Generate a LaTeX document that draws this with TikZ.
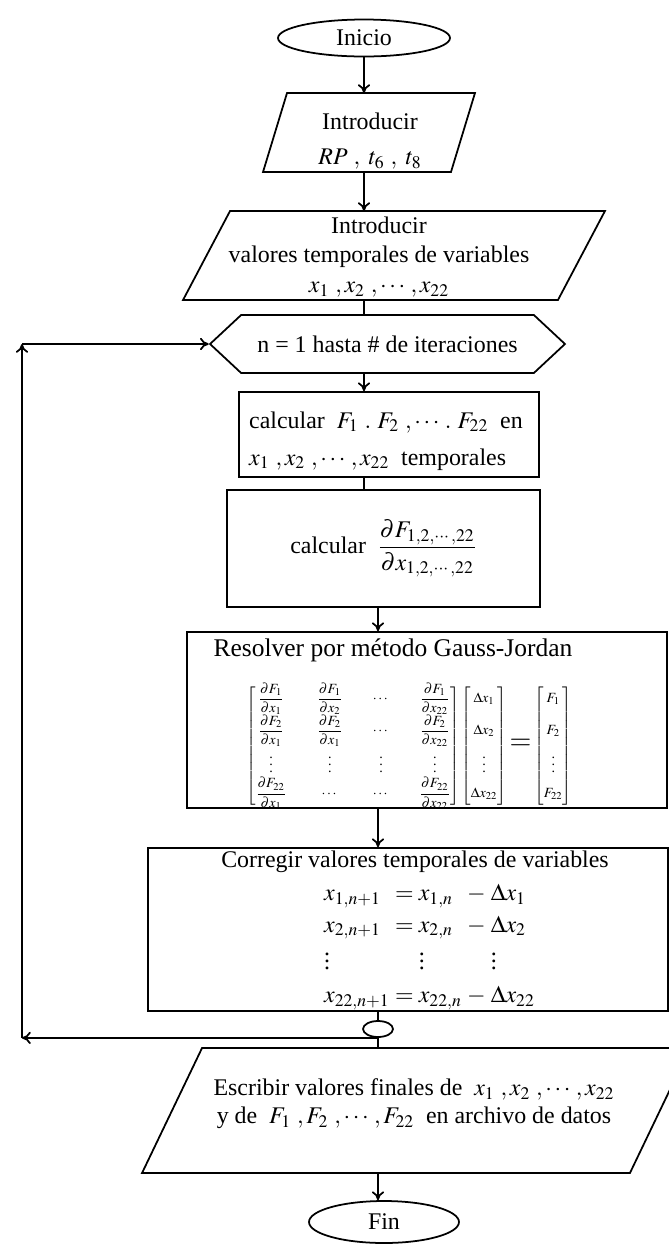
\documentclass[tikz,border=0pt]{standalone}
\usepackage{amsmath}
\usepackage{mathptmx}
\usepackage{fontspec}
\setmainfont{Liberation Serif}
\usepackage{tikz}
\usetikzlibrary{arrows.meta, positioning, shapes.geometric, shapes.symbols}

\newcommand{\alto}{\vphantom{\dfrac{\partial F_1}{\partial x_1}}}
% contorno de paralelogramo sobre un nodo rectangular
\newcommand{\paralelo}[2]{\draw[linea] ([xshift=#2]#1.north west) -- (#1.north east) -- ([xshift=-#2]#1.south east) -- (#1.south west) -- cycle;}

\begin{document}
\begin{tikzpicture}[x=0.02cm, y=-0.02cm,
    every node/.style={font=\fontsize{13.6}{16}\selectfont},
    linea/.style={line width=1pt},
    flecha/.style={linea, -{To[length=5pt,width=7pt]}},
    caja/.style={draw, rectangle, line width=1pt},
    datos/.style={rectangle, inner sep=0pt, outer sep=0pt},
    terminal/.style={draw, ellipse, line width=1pt, inner sep=0pt}]

    \useasboundingbox (0,0) rectangle (669,1245);

    % Inicio y datos de entrada
    \node[terminal, minimum width=3.44cm, minimum height=0.74cm] (inicio) at (364,38) {Inicio};
    \node[datos, minimum width=4.24cm, minimum height=1.58cm] (p1) at (369,132.5) {};
    \paralelo{p1}{0.48cm}
    \node[align=center] (p1t) at (370,141) {Introducir\\[4pt] $RP\ ,\ t_6\ ,\ t_8$};
    \node[datos, minimum width=8.44cm, minimum height=1.78cm] (p2) at (394,255.5) {};
    \paralelo{p2}{0.94cm}
    \node[align=center] (p2t) at (379,257) {Introducir\\[1pt] valores temporales de variables\\[1pt] $x_1\ ,x_2\ ,\cdots ,x_{22}$};

    % Ciclo de iteraciones
    \node[draw, signal, signal to=west and east, signal pointer angle=86, line width=1pt, minimum width=7.1cm, minimum height=1.16cm] (hex) at (387.5,344) {n = 1 hasta \# de iteraciones};
    \node[caja, minimum width=6cm, minimum height=1.7cm] (b3) at (389,434.5) {};
    \node[anchor=west, align=left] (b3t) at (243,441) {calcular \ $F_1\ .\ F_2\ ,\cdots .\ F_{22}$ \ en\\[5pt] $x_1\ ,x_2\ ,\cdots ,x_{22}$ \ temporales};
    \node[caja, minimum width=6.26cm, minimum height=2.34cm] (b4) at (383.5,548.5) {calcular \ $\dfrac{\partial F_{1,2,\cdots,22}}{\partial x_{1,2,\cdots,22}}$};
    \node[caja, minimum width=9.6cm, minimum height=3.52cm] (b5) at (427,720) {};
    \node[font=\fontsize{14.5}{17}\selectfont] (b5t) at (393,650) {Resolver por método Gauss-Jordan};
    \node[font=\fontsize{8}{9.5}\selectfont] (mat) at (409,746) {\setlength{\arraycolsep}{8.5pt}$\begin{bmatrix}
        \dfrac{\partial F_1}{\partial x_1} & \dfrac{\partial F_1}{\partial x_2} & \cdots & \dfrac{\partial F_1}{\partial x_{22}}\\
        \dfrac{\partial F_2}{\partial x_1} & \dfrac{\partial F_2}{\partial x_1} & \cdots & \dfrac{\partial F_2}{\partial x_{22}}\\
        \vdots & \vdots & \vdots & \vdots\\
        \dfrac{\partial F_{22}}{\partial x_1} & \cdots & \cdots & \dfrac{\partial F_{22}}{\partial x_{22}}
    \end{bmatrix}\setlength{\arraycolsep}{3pt}\begin{bmatrix}
        \Delta x_1\alto\\ \Delta x_2\alto\\ \vdots\\ \Delta x_{22}\alto
    \end{bmatrix} \mathrel{\text{\fontsize{16}{16}\selectfont$=$}} \begin{bmatrix}
        \,F_1\,\alto\\ F_2\alto\\ \vdots\\ F_{22}\alto
    \end{bmatrix}$};
    \node[caja, minimum width=10.4cm, minimum height=3.26cm] (b6) at (408,929.5) {};
    \node (b6t) at (415,862) {Corregir valores temporales de variables};
    \node[anchor=west] (eqs) at (318,946) {$\begin{array}{@{}l@{\;}c@{\;}l@{\;}c@{\;}l@{}}
        x_{1,n+1} & = & x_{1,n} & - & \Delta x_1\\[2pt]
        x_{2,n+1} & = & x_{2,n} & - & \Delta x_2\\[1pt]
        \vdots & & \vdots & & \vdots\\[3pt]
        x_{22,n+1} & = & x_{22,n} & - & \Delta x_{22}
    \end{array}$};
    \node[terminal, minimum width=0.6cm, minimum height=0.32cm] (ell) at (378,1029) {};

    % Salida y fin
    \node[datos, minimum width=10.96cm, minimum height=2.5cm] (p3) at (416,1110.5) {};
    \paralelo{p3}{1.2cm}
    \node[align=center] (p3t) at (414,1104) {Escribir valores finales de \ $x_1\ ,x_2\ ,\cdots ,x_{22}$\\ y de \ $F_1\ ,F_2\ ,\cdots ,F_{22}$ \ en archivo de datos};
    \node[terminal, minimum width=3cm, minimum height=0.84cm] (fin) at (384,1222) {Fin};

    % Flechas
    \draw[flecha] (inicio) -- (inicio |- p1.north);
    \draw[flecha] (inicio |- p1.south) -- (inicio |- p2.north);
    \draw[linea] (inicio |- p2.south) -- (inicio |- hex.north);
    \draw[flecha] (inicio |- hex.south) -- (inicio |- b3.north);
    \draw[linea] (inicio |- b3.south) -- (inicio |- b4.north);
    \draw[flecha] (ell |- b4.south) -- (ell |- b5.north);
    \draw[flecha] (ell |- b5.south) -- (ell |- b6.north);
    \draw[linea] (ell |- b6.south) -- (ell);
    \draw[linea] (ell) -- (ell |- p3.north);
    \draw[flecha] (ell |- p3.south) -- (ell |- fin.north);

    % Regreso del ciclo
    \coordinate (lx) at (22,0);
    \draw[flecha] (ell.south) -- (ell.south -| lx);
    \draw[flecha] (ell.south -| lx) -- (hex.west -| lx);
    \draw[flecha] (hex.west -| lx) -- (hex.west);
\end{tikzpicture}
\end{document}
